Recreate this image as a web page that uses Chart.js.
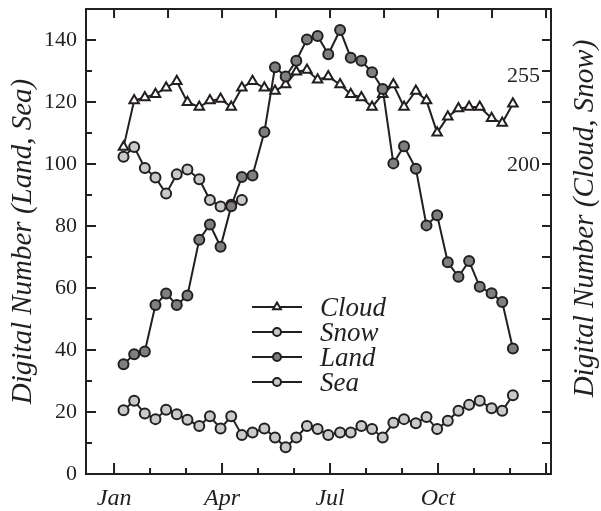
<!DOCTYPE html>
<html>
<head>
<meta charset="utf-8">
<script src="https://cdn.jsdelivr.net/npm/chart.js@4.4.1/dist/chart.umd.min.js"></script>
<style>
body { margin: 0; background: #fff; }
#wrap { width: 601px; height: 511px; }
</style>
</head>
<body>
<div id="wrap"><canvas id="grafico"></canvas></div>
<script>
// dia del año de cada compuesto
const dias = [8, 17, 26, 35, 44, 53, 62, 72, 81, 90, 99, 108, 117, 127, 136, 145, 154, 163, 172, 181, 191, 200, 209, 218, 227, 236, 245, 255, 264, 273, 282, 291, 300, 309, 319, 328, 337];

// eje izquierdo (Land, Sea)
const land = [35.4, 38.6, 39.5, 54.5, 58.2, 54.5, 57.6, 75.6, 80.5, 73.3, 86.4, 95.8, 96.3, 110.3, 131.2, 128.2, 133.3, 140.2, 141.3, 135.4, 143.2, 134.3, 133.3, 129.6, 124.2, 100.2, 105.7, 98.5, 80.2, 83.5, 68.3, 63.6, 68.7, 60.4, 58.3, 55.5, 40.5];
const sea = [20.6, 23.6, 19.5, 17.7, 20.7, 19.3, 17.5, 15.5, 18.6, 14.7, 18.6, 12.6, 13.4, 14.7, 11.8, 8.6, 11.8, 15.5, 14.5, 12.6, 13.4, 13.4, 15.5, 14.5, 11.8, 16.5, 17.7, 16.4, 18.4, 14.5, 17.2, 20.4, 22.3, 23.6, 21.2, 20.4, 25.4];

// eje derecho (Cloud, Snow)
const cloud = [211, 240, 242, 244, 248, 252, 239, 236, 240, 241, 236, 248, 252, 248, 246, 250, 258, 259, 253, 255, 250, 244, 242, 236, 244, 250, 236, 246, 240, 220, 230, 235, 236, 236, 229, 226, 238];
const snow = [205, 211, 198, 192, 182, 194, 197, 191, 178, 174, 175, 178];

const meses = ["Jan", "Feb", "Mar", "Apr", "May", "Jun", "Jul", "Aug", "Sep", "Oct", "Nov", "Dec", "Jan"];
const mesesConEtiqueta = ["Jan", "Apr", "Jul", "Oct"];
const ticksIzq = [0, 20, 40, 60, 80, 100, 120, 140];
const ticksDer = [200, 255];

const tinta = "#231f20";
const grisOscuro = "#7f7f7f";
const grisClaro = "#c9c9c9";
const mesDias = 365 / 12;
const fuente = '"Liberation Serif", "Times New Roman", serif';

Chart.defaults.font.family = fuente;
Chart.defaults.color = tinta;

const pares = (vals) => vals.map((v, i) => ({ x: dias[i], y: v }));

const serie = (label, vals, eje, estilo, relleno, orden) => ({
    label: label,
    data: pares(vals),
    yAxisID: eje,
    order: orden,
    borderColor: tinta,
    borderWidth: 2,
    pointStyle: estilo,
    pointRadius: estilo === "triangle" ? 5.5 : 5,
    pointBorderWidth: 2,
    pointBorderColor: tinta,
    pointBackgroundColor: relleno,
    tension: 0,
    fill: false
});

// marco con ticks hacia adentro
const marco = {
    id: "marco",
    beforeDatasetsDraw(chart) {
        const { ctx, chartArea: a, scales } = chart;
        ctx.save();
        ctx.strokeStyle = tinta;
        ctx.lineWidth = 2;
        ctx.strokeRect(a.left, a.top, a.right - a.left, a.bottom - a.top);
        ctx.beginPath();
        for (let k = 0; k <= 12; k++) {
            const x = scales.x.getPixelForValue(k * mesDias);
            const l = k % 3 === 0 ? 11 : 6;
            ctx.moveTo(x, a.bottom);
            ctx.lineTo(x, a.bottom - l);
        }
        for (let k = 0; k <= 8; k++) {
            const x = scales.x.getPixelForValue(k * 1.5 * mesDias);
            ctx.moveTo(x, a.top);
            ctx.lineTo(x, a.top + 9);
        }
        for (let v = 10; v < 150; v += 10) {
            const y = scales.y.getPixelForValue(v);
            const l = v % 20 === 0 ? 10 : 6;
            ctx.moveTo(a.left, y);
            ctx.lineTo(a.left + l, y);
            ctx.moveTo(a.right, y);
            ctx.lineTo(a.right - 9, y);
        }
        ctx.stroke();
        ctx.restore();
    },
    afterDraw(chart) {
        const { ctx, chartArea: a } = chart;
        ctx.save();
        // leyenda
        const lx = 252, ly = 307, paso = 25;
        chart.data.datasets.forEach((ds, i) => {
            const y = ly + i * paso;
            ctx.strokeStyle = tinta;
            ctx.lineWidth = 2;
            ctx.beginPath();
            ctx.moveTo(lx, y);
            ctx.lineTo(lx + 50, y);
            ctx.stroke();
            ctx.fillStyle = ds.pointBackgroundColor;
            Chart.helpers.drawPoint(ctx, {
                pointStyle: ds.pointStyle,
                radius: ds.pointStyle === "triangle" ? 4.5 : 4,
                rotation: 0,
                borderWidth: 2
            }, lx + 25, y);
            ctx.fillStyle = tinta;
            ctx.font = "italic 27px " + fuente;
            ctx.textAlign = "left";
            ctx.textBaseline = "alphabetic";
            ctx.fillText(ds.label, lx + 68, y + 9);
        });
        // titulo eje derecho
        ctx.translate(585, (a.top + a.bottom) / 2 - 23);
        ctx.rotate(-Math.PI / 2);
        ctx.textAlign = "center";
        ctx.textBaseline = "middle";
        ctx.fillStyle = tinta;
        ctx.font = "italic 29px " + fuente;
        ctx.fillText("Digital Number (Cloud, Snow)", 0, 0);
        ctx.restore();
    }
};

const grafico = new Chart(document.getElementById("grafico"), {
    type: "line",
    data: {
        datasets: [
            serie("Cloud", cloud, "y2", "triangle", "#ffffff", 1),
            serie("Snow", snow, "y2", "circle", grisClaro, 2),
            serie("Land", land, "y", "circle", grisOscuro, 0),
            serie("Sea", sea, "y", "circle", grisClaro, 3)
        ]
    },
    options: {
        responsive: true,
        maintainAspectRatio: false,
        animation: false,
        layout: { padding: { top: 9, left: 0, right: 0, bottom: 0 } },
        plugins: { legend: { display: false }, tooltip: { enabled: false } },
        scales: {
            x: {
                type: "linear",
                position: "bottom",
                min: -23.7,
                max: 369.2,
                afterBuildTicks: (eje) => { eje.ticks = meses.map((m, k) => ({ value: k * mesDias })); },
                afterFit: (eje) => { eje.height = 37; eje.paddingLeft = 0; eje.paddingRight = 0; },
                grid: { display: false, drawTicks: false },
                border: { display: false },
                ticks: {
                    autoSkip: false,
                    maxRotation: 0,
                    padding: 10,
                    font: { size: 24, style: "italic" },
                    callback: (v, i) => (i < 12 && mesesConEtiqueta.includes(meses[i])) ? meses[i] : ""
                }
            },
            y: {
                position: "left",
                min: 0,
                max: 150,
                afterBuildTicks: (eje) => { eje.ticks = ticksIzq.map(v => ({ value: v })); },
                afterFit: (eje) => { eje.width = 86; eje.paddingTop = 0; eje.paddingBottom = 0; },
                grid: { display: false, drawTicks: false },
                border: { display: false },
                ticks: { padding: 9, font: { size: 22 } },
                title: {
                    display: true,
                    text: "Digital Number (Land, Sea)",
                    font: { size: 29, style: "italic" },
                    padding: { top: 6, bottom: 0 }
                }
            },
            y2: {
                position: "right",
                min: 7.2,
                max: 297.1,
                afterBuildTicks: (eje) => { eje.ticks = ticksDer.map(v => ({ value: v })); },
                afterFit: (eje) => { eje.width = 50; eje.paddingTop = 0; eje.paddingBottom = 0; },
                grid: { display: false, drawTicks: false },
                border: { display: false },
                ticks: { mirror: true, padding: -11, font: { size: 22 } }
            }
        }
    },
    plugins: [marco]
});
</script>
</body>
</html>
